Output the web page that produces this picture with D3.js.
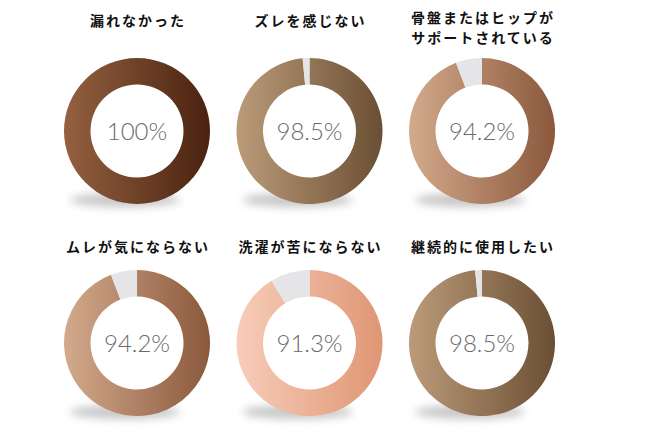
<!DOCTYPE html>
<html><head><meta charset="utf-8">
<script src="https://cdn.jsdelivr.net/npm/d3@7"></script>
<style>
html,body{margin:0;padding:0;background:#fff;}
svg{display:block;}
</style></head>
<body>
<svg id="chart" width="650" height="430"></svg>
<script>
const titles = [["漏れなかった"], ["ズレを感じない"], ["骨盤またはヒップが", "サポートされている"], ["ムレが気にならない"], ["洗濯が苦にならない"], ["継続的に使用したい"]];
const values = [100, 98.5, 94.2, 94.2, 91.3, 98.5];
const labels = ["100%", "98.5%", "94.2%", "94.2%", "91.3%", "98.5%"];
const colorLeft = ["#946140", "#bb9b79", "#d3aa8c", "#d3aa8c", "#f7cdb9", "#bb9b79"];
const colorRight = ["#4a2210", "#6b4f34", "#8b583c", "#8b583c", "#df9674", "#6b4f34"];

const svg = d3.select("#chart");
const cols = d3.scalePoint().domain([0,1,2]).range([137, 482]);
const rows = d3.scalePoint().domain([0,1]).range([131, 343]);
const rOut = 73, rIn = 46.5;

const defs = svg.append("defs");
const blur = defs.append("filter").attr("id","sh").attr("x","-50%").attr("y","-200%").attr("width","200%").attr("height","500%");
blur.append("feGaussianBlur").attr("stdDeviation", 4);

const pie = d3.pie().sort(null).value(d => d);
const arc = d3.arc().innerRadius(rIn).outerRadius(rOut);

values.forEach((v, i) => {
  const cx = cols(i % 3), cy = rows(Math.floor(i / 3));
  const gid = "g" + i;
  const lg = defs.append("linearGradient").attr("id", gid)
    .attr("gradientUnits", "userSpaceOnUse")
    .attr("x1", -rOut).attr("x2", rOut).attr("y1", 0).attr("y2", 0);
  lg.append("stop").attr("offset", "0%").attr("stop-color", colorLeft[i]);
  lg.append("stop").attr("offset", "100%").attr("stop-color", colorRight[i]);

  svg.append("ellipse")
    .attr("cx", cx - 12).attr("cy", cy + rOut - 4)
    .attr("rx", 55).attr("ry", 7)
    .attr("fill", "#9a9a9a").attr("opacity", 0.55)
    .attr("filter", "url(#sh)");

  const g = svg.append("g").attr("transform", `translate(${cx},${cy})`);
  const data = pie([v, 100 - v]);
  g.selectAll("path").data(data).join("path")
    .attr("d", arc)
    .attr("fill", (d, j) => j === 0 ? `url(#${gid})` : "#e5e5e7");

  g.append("text").attr("text-anchor", "middle").attr("dy", "0.36em")
    .attr("font-family", "Lato, 'Open Sans', sans-serif").attr("font-weight", 300)
    .attr("font-size", 24).attr("fill", "#6a6a6a")
    .text(labels[i]);

  const t = titles[i];
  const baseY = (Math.floor(i / 3) === 0 ? 21 : 247);
  t.forEach((line, k) => {
    const y = t.length === 1 ? baseY : 18 + k * 20;
    svg.append("text").attr("x", cx + 1).attr("y", y).attr("dy", "0.36em")
      .attr("text-anchor", "middle")
      .attr("font-family", "'Noto Sans CJK JP', sans-serif").attr("font-weight", 700)
      .attr("font-size", 14).attr("letter-spacing", 2).attr("fill", "#111")
      .text(line);
  });
});
</script>
</body></html>
